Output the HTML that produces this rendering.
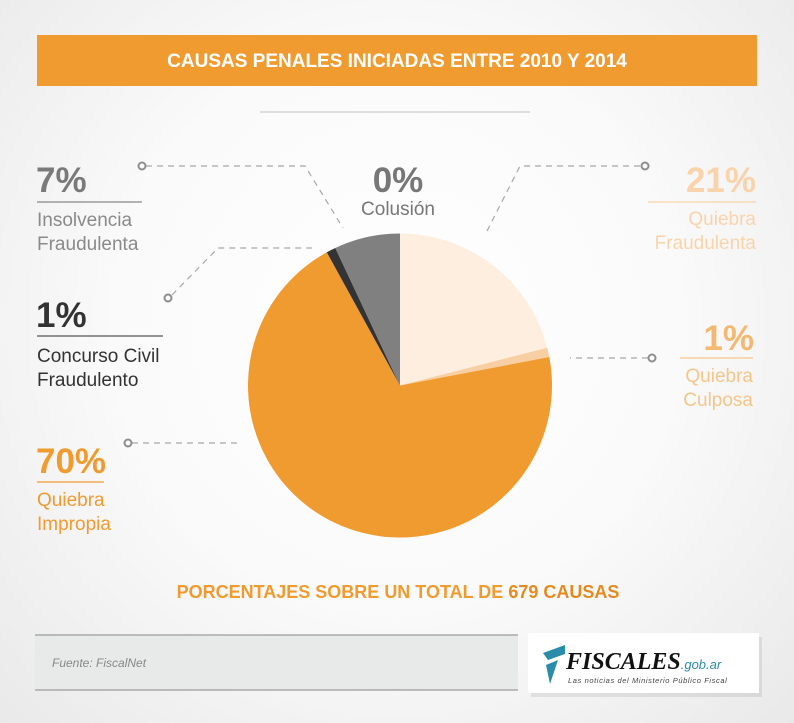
<!DOCTYPE html>
<html><head><meta charset="utf-8"><style>
html,body{margin:0;padding:0}
body{width:794px;height:723px;overflow:hidden;background:radial-gradient(ellipse at 50% 45%,#ffffff 0%,#fafafa 50%,#e9e9e9 100%);font-family:"Liberation Sans",sans-serif}
</style></head><body>
<svg width="794" height="723" xmlns="http://www.w3.org/2000/svg" style="position:absolute;left:0;top:0">
<rect x="37" y="35" width="720" height="51" fill="#f09b30"/>
<text x="397" y="67" text-anchor="middle" font-family="Liberation Sans" font-weight="bold" font-size="19" fill="#fff">CAUSAS PENALES INICIADAS ENTRE 2010 Y 2014</text>
<line x1="260" y1="112" x2="530" y2="112" stroke="#d5d5d5" stroke-width="1.5"/>
<g>
<path d="M400,385.5 L400,233.5 A152,152 0 0 1 547.2,347.7 Z" fill="#fdeedf"/>
<path d="M400,385.5 L547.2,347.7 A152,152 0 0 1 549.3,357.0 Z" fill="#f8cfa2"/>
<path d="M400,385.5 L549.3,357.0 A152,152 0 1 1 326.8,252.3 Z" fill="#f09b30"/>
<path d="M400,385.5 L326.8,252.3 A152,152 0 0 1 335.3,248.0 Z" fill="#333"/>
<path d="M400,385.5 L335.3,248.0 A152,152 0 0 1 400,233.5 Z" fill="#808080"/>
</g>
<g stroke="#a8a8a8" stroke-width="1.2" stroke-dasharray="6,5" fill="none">
<polyline points="146,166 305,166 343,228"/>
<polyline points="172,295 218,248 312,248"/>
<polyline points="132,443 237,443"/>
<polyline points="640,166 520,166 487,231"/>
<polyline points="648,358 570,358"/>
</g>
<g fill="none" stroke="#8e8e8e" stroke-width="2">
<circle cx="142" cy="166" r="3.5"/><circle cx="168" cy="298" r="3.5"/><circle cx="128" cy="443" r="3.5"/>
<circle cx="645" cy="166" r="3.5"/><circle cx="652" cy="358" r="3.5"/>
</g>
<g font-family="Liberation Sans">
<text x="36" y="192" font-size="35" font-weight="bold" fill="#7a7a7a">7%</text>
<line x1="37" y1="202" x2="142" y2="202" stroke="#888" stroke-width="1.2"/>
<text x="37" y="226" font-size="19" fill="#8a8a8a">Insolvencia</text>
<text x="37" y="250" font-size="19" fill="#8a8a8a">Fraudulenta</text>
<text x="36" y="327" font-size="35" font-weight="bold" fill="#333">1%</text>
<line x1="37" y1="336" x2="163" y2="336" stroke="#555" stroke-width="1.2"/>
<text x="37" y="362" font-size="19" fill="#333">Concurso Civil</text>
<text x="37" y="386" font-size="19" fill="#333">Fraudulento</text>
<text x="36" y="473" font-size="35" font-weight="bold" fill="#f09b30">70%</text>
<line x1="37" y1="482" x2="104" y2="482" stroke="#f09b30" stroke-width="1.2"/>
<text x="37" y="506" font-size="19" fill="#f09b30">Quiebra</text>
<text x="37" y="530" font-size="19" fill="#f09b30">Impropia</text>
<text x="398" y="192" text-anchor="middle" font-size="35" font-weight="bold" fill="#777">0%</text>
<text x="398" y="215" text-anchor="middle" font-size="19" fill="#777">Colusión</text>
<text x="756" y="192" text-anchor="end" font-size="35" font-weight="bold" fill="#f9d4aa">21%</text>
<line x1="648" y1="202" x2="756" y2="202" stroke="#f9d4aa" stroke-width="1.2"/>
<text x="756" y="225" text-anchor="end" font-size="19" fill="#f9d4aa">Quiebra</text>
<text x="756" y="249" text-anchor="end" font-size="19" fill="#f9d4aa">Fraudulenta</text>
<text x="754" y="350" text-anchor="end" font-size="35" font-weight="bold" fill="#f5b871">1%</text>
<line x1="680" y1="358" x2="753" y2="358" stroke="#f5c58a" stroke-width="1.2"/>
<text x="753" y="382" text-anchor="end" font-size="19" fill="#f5c58a">Quiebra</text>
<text x="753" y="406" text-anchor="end" font-size="19" fill="#f5c58a">Culposa</text>
<text x="398" y="598" text-anchor="middle" font-size="18" font-weight="bold" fill="#f09b30">PORCENTAJES SOBRE UN TOTAL DE <tspan fill="#e58a1f">679 CAUSAS</tspan></text>
</g>
<rect x="35" y="635" width="483" height="55" fill="#e8e9e9"/>
<line x1="35" y1="635" x2="518" y2="635" stroke="#a9a9a9" stroke-width="1.5"/>
<line x1="35" y1="690" x2="518" y2="690" stroke="#a9a9a9" stroke-width="1.5"/>
<text x="52" y="667" font-family="Liberation Sans" font-style="italic" font-size="12" fill="#888">Fuente: FiscalNet</text>
<rect x="529" y="634" width="231" height="60" fill="#000" opacity="0.08" transform="translate(2,3)"/>
<rect x="528" y="633" width="231" height="60" fill="#fff"/>
<polygon points="543,653 565,645 565,654 548,660" fill="#2a8bab"/>
<polygon points="546,665 558,660 550,684" fill="#2a8bab"/>
<text x="566" y="669" font-family="Liberation Serif" font-style="italic" font-weight="bold" font-size="24" fill="#111">FISCALES<tspan font-family="Liberation Sans" font-size="13" font-weight="normal" fill="#2a8bab">.gob.ar</tspan></text>
<text x="568" y="683" font-family="Liberation Sans" font-style="italic" font-size="7.5" fill="#444" letter-spacing="0.6">Las noticias del Ministerio Público Fiscal</text>
</svg>
</body></html>
